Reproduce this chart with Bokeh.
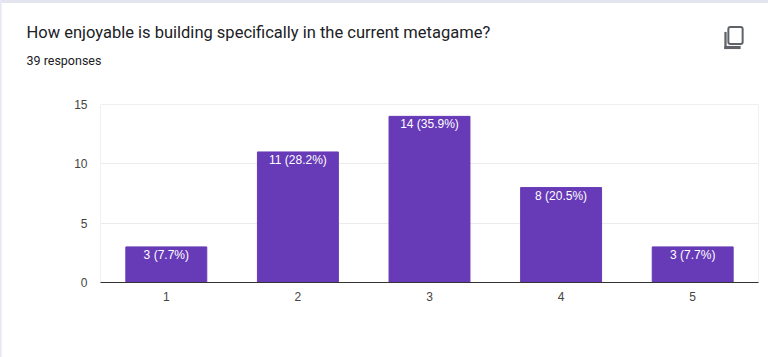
from bokeh.plotting import figure
from bokeh.models import Label, ColumnDataSource, FixedTicker
from bokeh.core.properties import value
from bokeh.embed import file_html
from bokeh.resources import INLINE

categories = ["1", "2", "3", "4", "5"]
counts = [3, 11, 14, 8, 3]
percents = ["7.7", "28.2", "35.9", "20.5", "7.7"]
y_ticks = [0, 5, 10, 15]
title_text = "How enjoyable is building specifically in the current metagame?"
subtitle_text = "39 responses"

labels = [f"{c} ({s}%)" for c, s in zip(counts, percents)]
src = ColumnDataSource(dict(cat=categories, n=counts, lab=labels))

W, H = 768, 357
L, T, B, R = 100, 104, 75, 10          # frame insets
p = figure(width=W, height=H, x_range=categories, y_range=(0, 15),
           output_backend="svg", toolbar_location=None, tools="",
           min_border_left=L, min_border_right=R, min_border_top=T, min_border_bottom=B,
           background_fill_color="white", border_fill_color="white")
p.outline_line_color = "#f0f0f0"

p.vbar(x="cat", top="n", width=0.615, source=src, color="#673AB7")
p.text(x="cat", y="n", text="lab", source=src, text_color="white",
       text_font=value("Liberation Sans"), text_font_size="12px", text_font_style="normal",
       text_align="center", text_baseline="top", y_offset=1)

p.xgrid.visible = False
p.ygrid.grid_line_color = "#ebebeb"
p.ygrid.ticker = FixedTicker(ticks=y_ticks)

p.yaxis.ticker = FixedTicker(ticks=y_ticks)
p.yaxis.axis_line_color = None
p.yaxis.major_tick_line_color = None
p.yaxis.minor_tick_line_color = None
p.yaxis.major_label_standoff = 7
p.yaxis.major_label_text_font = "Liberation Sans"
p.yaxis.major_label_text_font_size = "12px"
p.yaxis.major_label_text_color = "#444444"

p.xaxis.axis_line_color = "#333333"
p.xaxis.axis_line_width = 1
p.xaxis.major_tick_line_color = None
p.xaxis.minor_tick_line_color = None
p.xaxis.major_label_standoff = 3
p.xaxis.major_label_text_font = "Liberation Sans"
p.xaxis.major_label_text_font_size = "12px"
p.xaxis.major_label_text_color = "#444444"

# "above" panels stack outward from the frame; x is frame-relative, y is up from the panel's bottom
above_bottom = T
def above_text(text, cy, size, height):
    global above_bottom
    p.add_layout(Label(x=26 - L, y=above_bottom - cy, x_units="screen", y_units="screen", text=text,
                       text_font="Roboto", text_font_size=size, text_color="#202124",
                       text_align="left", text_baseline="middle"), "above")
    above_bottom -= height

above_text(subtitle_text, 60, "12.5px", 15)
above_text(title_text, 32, "16.5px", 19)

# top edge of the card
p.add_layout(Label(x=W // 2 - L, y=above_bottom - 1, x_units="screen", y_units="screen", text=" ",
                   text_font_size="1px", text_align="center", text_baseline="middle",
                   padding=dict(x=W // 2, y=1), background_fill_color="#e4e4ee", background_fill_alpha=1,
                   level="annotation"), "above")

# "left" panels stack outward from the axis; x is relative to the block's own panel, y is up from the frame's bottom
AXIS_W = 28
left_edge = L - AXIS_W
def block(cx, cy, w, h, fill, line=None, radius=0, level="annotation", lw=1):
    global left_edge
    left_edge -= w
    p.add_layout(Label(x=cx - left_edge, y=(H - B) - cy, x_units="screen", y_units="screen", text=" ",
                       text_font_size="1px", text_align="center", text_baseline="middle",
                       padding=dict(x=w // 2, y=h // 2), background_fill_color=fill, background_fill_alpha=1,
                       border_line_color=line, border_line_width=lw, border_radius=radius,
                       level=level), "left")

# lavender page strip on the left of the card
block(1, 178, 2, 358, "#e8e8f5")
# copy icon: back sheet's L, then the front sheet
block(726, 40, 2, 16, "#5f6368")
block(733, 47, 16, 2, "#5f6368")
block(736, 35, 14, 16, "white", line="#5f6368", radius=2, lw=2)

open("out.html", "w").write(file_html(p, INLINE))
